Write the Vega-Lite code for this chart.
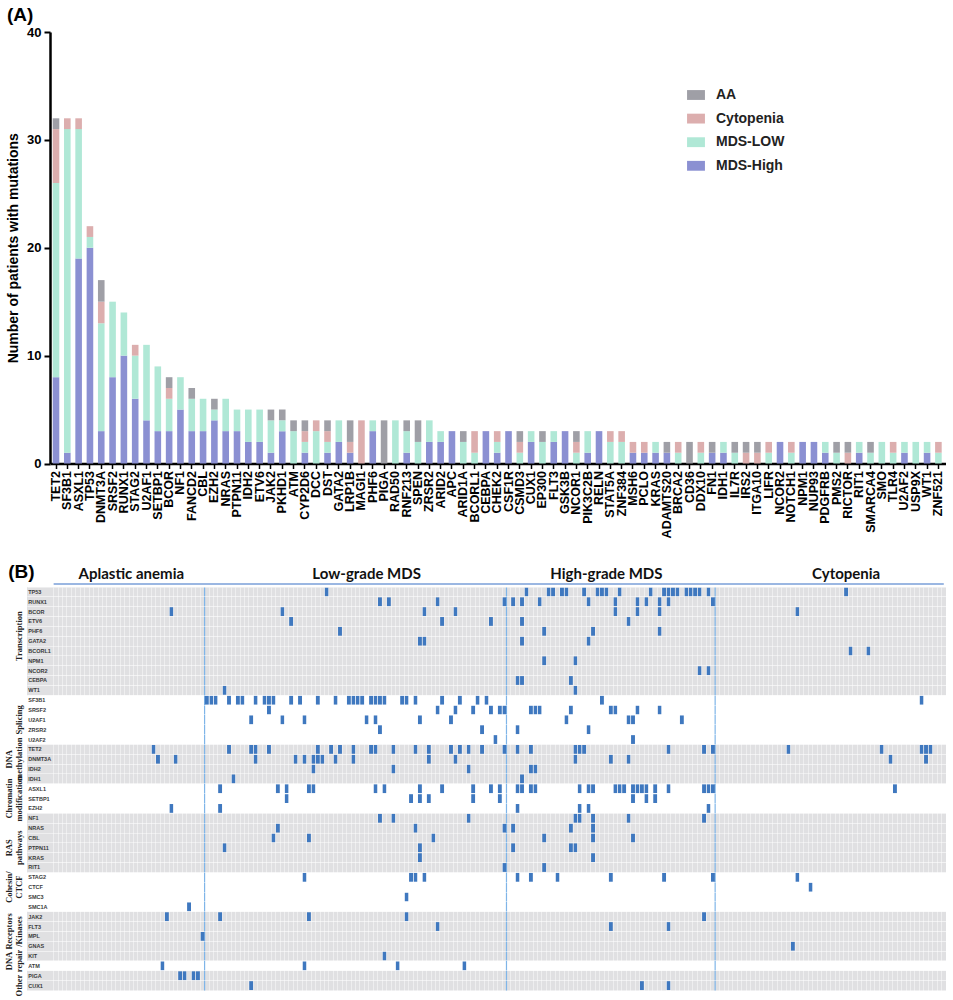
{"$schema":"https://vega.github.io/schema/vega-lite/v6.json","background":"white","padding":{"left":5,"top":6,"right":0,"bottom":0},"spacing":24,"bounds":"full","align":"none","config":{"view":{"stroke":null},"font":"Liberation Sans"},
"datasets":{
"counts":[
{"gene":"TET2","status":"MDS-High","n":8,"rank":1},{"gene":"TET2","status":"MDS-LOW","n":18,"rank":2},{"gene":"TET2","status":"Cytopenia","n":5,"rank":3},{"gene":"TET2","status":"AA","n":1,"rank":4},
{"gene":"SF3B1","status":"MDS-High","n":1,"rank":1},{"gene":"SF3B1","status":"MDS-LOW","n":30,"rank":2},{"gene":"SF3B1","status":"Cytopenia","n":1,"rank":3},
{"gene":"ASXL1","status":"MDS-High","n":19,"rank":1},{"gene":"ASXL1","status":"MDS-LOW","n":12,"rank":2},{"gene":"ASXL1","status":"Cytopenia","n":1,"rank":3},
{"gene":"TP53","status":"MDS-High","n":20,"rank":1},{"gene":"TP53","status":"MDS-LOW","n":1,"rank":2},{"gene":"TP53","status":"Cytopenia","n":1,"rank":3},
{"gene":"DNMT3A","status":"MDS-High","n":3,"rank":1},{"gene":"DNMT3A","status":"MDS-LOW","n":10,"rank":2},{"gene":"DNMT3A","status":"Cytopenia","n":2,"rank":3},{"gene":"DNMT3A","status":"AA","n":2,"rank":4},
{"gene":"SRSF2","status":"MDS-High","n":8,"rank":1},{"gene":"SRSF2","status":"MDS-LOW","n":7,"rank":2},
{"gene":"RUNX1","status":"MDS-High","n":10,"rank":1},{"gene":"RUNX1","status":"MDS-LOW","n":4,"rank":2},
{"gene":"STAG2","status":"MDS-High","n":6,"rank":1},{"gene":"STAG2","status":"MDS-LOW","n":4,"rank":2},{"gene":"STAG2","status":"Cytopenia","n":1,"rank":3},
{"gene":"U2AF1","status":"MDS-High","n":4,"rank":1},{"gene":"U2AF1","status":"MDS-LOW","n":7,"rank":2},
{"gene":"SETBP1","status":"MDS-High","n":3,"rank":1},{"gene":"SETBP1","status":"MDS-LOW","n":6,"rank":2},
{"gene":"BCOR","status":"MDS-High","n":3,"rank":1},{"gene":"BCOR","status":"MDS-LOW","n":3,"rank":2},{"gene":"BCOR","status":"Cytopenia","n":1,"rank":3},{"gene":"BCOR","status":"AA","n":1,"rank":4},
{"gene":"NF1","status":"MDS-High","n":5,"rank":1},{"gene":"NF1","status":"MDS-LOW","n":3,"rank":2},
{"gene":"FANCD2","status":"MDS-High","n":3,"rank":1},{"gene":"FANCD2","status":"MDS-LOW","n":3,"rank":2},{"gene":"FANCD2","status":"AA","n":1,"rank":4},
{"gene":"CBL","status":"MDS-High","n":3,"rank":1},{"gene":"CBL","status":"MDS-LOW","n":3,"rank":2},
{"gene":"EZH2","status":"MDS-High","n":4,"rank":1},{"gene":"EZH2","status":"MDS-LOW","n":1,"rank":2},{"gene":"EZH2","status":"AA","n":1,"rank":4},
{"gene":"NRAS","status":"MDS-High","n":3,"rank":1},{"gene":"NRAS","status":"MDS-LOW","n":3,"rank":2},
{"gene":"PTPN11","status":"MDS-High","n":3,"rank":1},{"gene":"PTPN11","status":"MDS-LOW","n":2,"rank":2},
{"gene":"IDH2","status":"MDS-High","n":2,"rank":1},{"gene":"IDH2","status":"MDS-LOW","n":3,"rank":2},
{"gene":"ETV6","status":"MDS-High","n":2,"rank":1},{"gene":"ETV6","status":"MDS-LOW","n":3,"rank":2},
{"gene":"JAK2","status":"MDS-High","n":1,"rank":1},{"gene":"JAK2","status":"MDS-LOW","n":3,"rank":2},{"gene":"JAK2","status":"AA","n":1,"rank":4},
{"gene":"PKHD1","status":"MDS-High","n":3,"rank":1},{"gene":"PKHD1","status":"MDS-LOW","n":1,"rank":2},{"gene":"PKHD1","status":"AA","n":1,"rank":4},
{"gene":"ATM","status":"MDS-LOW","n":3,"rank":2},{"gene":"ATM","status":"AA","n":1,"rank":4},
{"gene":"CYP2D6","status":"MDS-High","n":1,"rank":1},{"gene":"CYP2D6","status":"MDS-LOW","n":1,"rank":2},{"gene":"CYP2D6","status":"Cytopenia","n":1,"rank":3},{"gene":"CYP2D6","status":"AA","n":1,"rank":4},
{"gene":"DCC","status":"MDS-LOW","n":3,"rank":2},{"gene":"DCC","status":"Cytopenia","n":1,"rank":3},
{"gene":"DST","status":"MDS-High","n":1,"rank":1},{"gene":"DST","status":"MDS-LOW","n":1,"rank":2},{"gene":"DST","status":"Cytopenia","n":1,"rank":3},{"gene":"DST","status":"AA","n":1,"rank":4},
{"gene":"GATA2","status":"MDS-High","n":2,"rank":1},{"gene":"GATA2","status":"MDS-LOW","n":2,"rank":2},
{"gene":"LRP1B","status":"MDS-High","n":1,"rank":1},{"gene":"LRP1B","status":"Cytopenia","n":1,"rank":3},{"gene":"LRP1B","status":"AA","n":2,"rank":4},
{"gene":"MAGI1","status":"Cytopenia","n":4,"rank":3},
{"gene":"PHF6","status":"MDS-High","n":3,"rank":1},{"gene":"PHF6","status":"MDS-LOW","n":1,"rank":2},
{"gene":"PIGA","status":"AA","n":4,"rank":4},
{"gene":"RAD50","status":"MDS-LOW","n":4,"rank":2},
{"gene":"RNF213","status":"MDS-High","n":1,"rank":1},{"gene":"RNF213","status":"MDS-LOW","n":2,"rank":2},{"gene":"RNF213","status":"AA","n":1,"rank":4},
{"gene":"SPEN","status":"MDS-LOW","n":2,"rank":2},{"gene":"SPEN","status":"AA","n":2,"rank":4},
{"gene":"ZRSR2","status":"MDS-High","n":2,"rank":1},{"gene":"ZRSR2","status":"MDS-LOW","n":2,"rank":2},
{"gene":"ARID2","status":"MDS-High","n":2,"rank":1},{"gene":"ARID2","status":"MDS-LOW","n":1,"rank":2},
{"gene":"APC","status":"MDS-High","n":3,"rank":1},
{"gene":"ARID1A","status":"MDS-LOW","n":2,"rank":2},{"gene":"ARID1A","status":"AA","n":1,"rank":4},
{"gene":"BCORL1","status":"MDS-LOW","n":1,"rank":2},{"gene":"BCORL1","status":"Cytopenia","n":2,"rank":3},
{"gene":"CEBPA","status":"MDS-High","n":3,"rank":1},
{"gene":"CHEK2","status":"MDS-High","n":1,"rank":1},{"gene":"CHEK2","status":"MDS-LOW","n":1,"rank":2},{"gene":"CHEK2","status":"Cytopenia","n":1,"rank":3},
{"gene":"CSF1R","status":"MDS-High","n":3,"rank":1},
{"gene":"CSMD3","status":"MDS-LOW","n":1,"rank":2},{"gene":"CSMD3","status":"Cytopenia","n":1,"rank":3},{"gene":"CSMD3","status":"AA","n":1,"rank":4},
{"gene":"CUX1","status":"MDS-High","n":2,"rank":1},{"gene":"CUX1","status":"MDS-LOW","n":1,"rank":2},
{"gene":"EP300","status":"MDS-LOW","n":2,"rank":2},{"gene":"EP300","status":"AA","n":1,"rank":4},
{"gene":"FLT3","status":"MDS-High","n":2,"rank":1},{"gene":"FLT3","status":"MDS-LOW","n":1,"rank":2},
{"gene":"GSK3B","status":"MDS-High","n":3,"rank":1},
{"gene":"NCOR1","status":"MDS-LOW","n":1,"rank":2},{"gene":"NCOR1","status":"Cytopenia","n":1,"rank":3},{"gene":"NCOR1","status":"AA","n":1,"rank":4},
{"gene":"PIK3C2B","status":"MDS-High","n":1,"rank":1},{"gene":"PIK3C2B","status":"MDS-LOW","n":2,"rank":2},
{"gene":"RELN","status":"MDS-High","n":3,"rank":1},
{"gene":"STAT5A","status":"MDS-LOW","n":2,"rank":2},{"gene":"STAT5A","status":"Cytopenia","n":1,"rank":3},
{"gene":"ZNF384","status":"MDS-LOW","n":2,"rank":2},{"gene":"ZNF384","status":"Cytopenia","n":1,"rank":3},
{"gene":"MSH6","status":"MDS-High","n":1,"rank":1},{"gene":"MSH6","status":"Cytopenia","n":1,"rank":3},
{"gene":"PCLO","status":"MDS-High","n":1,"rank":1},{"gene":"PCLO","status":"Cytopenia","n":1,"rank":3},
{"gene":"KRAS","status":"MDS-High","n":1,"rank":1},{"gene":"KRAS","status":"MDS-LOW","n":1,"rank":2},
{"gene":"ADAMTS20","status":"MDS-High","n":1,"rank":1},{"gene":"ADAMTS20","status":"AA","n":1,"rank":4},
{"gene":"BRCA2","status":"MDS-LOW","n":1,"rank":2},{"gene":"BRCA2","status":"Cytopenia","n":1,"rank":3},
{"gene":"CD36","status":"AA","n":2,"rank":4},
{"gene":"DDX10","status":"MDS-LOW","n":1,"rank":2},{"gene":"DDX10","status":"Cytopenia","n":1,"rank":3},
{"gene":"FN1","status":"MDS-High","n":1,"rank":1},{"gene":"FN1","status":"AA","n":1,"rank":4},
{"gene":"IDH1","status":"MDS-High","n":1,"rank":1},{"gene":"IDH1","status":"MDS-LOW","n":1,"rank":2},
{"gene":"IL7R","status":"MDS-LOW","n":1,"rank":2},{"gene":"IL7R","status":"AA","n":1,"rank":4},
{"gene":"IRS2","status":"Cytopenia","n":1,"rank":3},{"gene":"IRS2","status":"AA","n":1,"rank":4},
{"gene":"ITGA10","status":"Cytopenia","n":1,"rank":3},{"gene":"ITGA10","status":"AA","n":1,"rank":4},
{"gene":"LIFR","status":"MDS-LOW","n":1,"rank":2},{"gene":"LIFR","status":"Cytopenia","n":1,"rank":3},
{"gene":"NCOR2","status":"MDS-High","n":2,"rank":1},
{"gene":"NOTCH1","status":"MDS-LOW","n":1,"rank":2},{"gene":"NOTCH1","status":"Cytopenia","n":1,"rank":3},
{"gene":"NPM1","status":"MDS-High","n":2,"rank":1},
{"gene":"NUP93","status":"MDS-High","n":2,"rank":1},
{"gene":"PDGFRB","status":"MDS-High","n":1,"rank":1},{"gene":"PDGFRB","status":"MDS-LOW","n":1,"rank":2},
{"gene":"PMS2","status":"MDS-LOW","n":1,"rank":2},{"gene":"PMS2","status":"AA","n":1,"rank":4},
{"gene":"RICTOR","status":"Cytopenia","n":1,"rank":3},{"gene":"RICTOR","status":"AA","n":1,"rank":4},
{"gene":"RIT1","status":"MDS-High","n":1,"rank":1},{"gene":"RIT1","status":"MDS-LOW","n":1,"rank":2},
{"gene":"SMARCA4","status":"MDS-LOW","n":1,"rank":2},{"gene":"SMARCA4","status":"AA","n":1,"rank":4},
{"gene":"SMO","status":"MDS-LOW","n":2,"rank":2},
{"gene":"TLR4","status":"MDS-LOW","n":1,"rank":2},{"gene":"TLR4","status":"Cytopenia","n":1,"rank":3},
{"gene":"U2AF2","status":"MDS-High","n":1,"rank":1},{"gene":"U2AF2","status":"MDS-LOW","n":1,"rank":2},
{"gene":"USP9X","status":"MDS-LOW","n":2,"rank":2},
{"gene":"WT1","status":"MDS-High","n":1,"rank":1},{"gene":"WT1","status":"MDS-LOW","n":1,"rank":2},
{"gene":"ZNF521","status":"MDS-LOW","n":1,"rank":2},{"gene":"ZNF521","status":"Cytopenia","n":1,"rank":3}
],
"genes":[{"gene":"TP53","shaded":true},{"gene":"RUNX1","shaded":true},{"gene":"BCOR","shaded":true},{"gene":"ETV6","shaded":true},{"gene":"PHF6","shaded":true},{"gene":"GATA2","shaded":true},{"gene":"BCORL1","shaded":true},{"gene":"NPM1","shaded":true},{"gene":"NCOR2","shaded":true},{"gene":"CEBPA","shaded":true},{"gene":"WT1","shaded":true},{"gene":"SF3B1","shaded":false},{"gene":"SRSF2","shaded":false},{"gene":"U2AF1","shaded":false},{"gene":"ZRSR2","shaded":false},{"gene":"U2AF2","shaded":false},{"gene":"TET2","shaded":true},{"gene":"DNMT3A","shaded":true},{"gene":"IDH2","shaded":true},{"gene":"IDH1","shaded":true},{"gene":"ASXL1","shaded":false},{"gene":"SETBP1","shaded":false},{"gene":"EZH2","shaded":false},{"gene":"NF1","shaded":true},{"gene":"NRAS","shaded":true},{"gene":"CBL","shaded":true},{"gene":"PTPN11","shaded":true},{"gene":"KRAS","shaded":true},{"gene":"RIT1","shaded":true},{"gene":"STAG2","shaded":false},{"gene":"CTCF","shaded":false},{"gene":"SMC3","shaded":false},{"gene":"SMC1A","shaded":false},{"gene":"JAK2","shaded":true},{"gene":"FLT3","shaded":true},{"gene":"MPL","shaded":true},{"gene":"GNAS","shaded":true},{"gene":"KIT","shaded":true},{"gene":"ATM","shaded":false},{"gene":"PIGA","shaded":true},{"gene":"CUX1","shaded":true}],
"sections":[{"label":"Aplastic anemia","patient":17,"gene":"TP53"},{"label":"Low-grade MDS","patient":70,"gene":"TP53"},{"label":"High-grade MDS","patient":124,"gene":"TP53"},{"label":"Cytopenia","patient":178,"gene":"TP53"}],
"dividers":[{"patient":34},{"patient":102},{"patient":149}],
"groupsCentered":[{"label":"\nSplicing","gene":"U2AF1"},{"label":"DNA\nmethylation","gene":"DNMT3A"},{"label":"Chromatin\nmodification","gene":"SETBP1"},{"label":"RAS\npathways","gene":"PTPN11"},{"label":"Cohesin/\nCTCF","gene":"CTCF"},{"label":"\nOther","gene":"CUX1"}],
"groupsBetween":[{"label":"\nTranscription","gene":"PHF6"},{"label":"Receptors\n/Kinases","gene":"FLT3"},{"label":"DNA\nrepair","gene":"KIT"}],
"cells":[
{"gene":"TP53","patient":61},{"gene":"TP53","patient":106},{"gene":"TP53","patient":111},{"gene":"TP53","patient":112},{"gene":"TP53","patient":114},{"gene":"TP53","patient":115},{"gene":"TP53","patient":119},{"gene":"TP53","patient":122},{"gene":"TP53","patient":123},{"gene":"TP53","patient":124},{"gene":"TP53","patient":127},{"gene":"TP53","patient":134},{"gene":"TP53","patient":137},{"gene":"TP53","patient":138},{"gene":"TP53","patient":139},{"gene":"TP53","patient":140},{"gene":"TP53","patient":142},{"gene":"TP53","patient":143},{"gene":"TP53","patient":144},{"gene":"TP53","patient":145},{"gene":"TP53","patient":147},{"gene":"TP53","patient":178},
{"gene":"RUNX1","patient":73},{"gene":"RUNX1","patient":75},{"gene":"RUNX1","patient":86},{"gene":"RUNX1","patient":101},{"gene":"RUNX1","patient":103},{"gene":"RUNX1","patient":105},{"gene":"RUNX1","patient":109},{"gene":"RUNX1","patient":120},{"gene":"RUNX1","patient":126},{"gene":"RUNX1","patient":131},{"gene":"RUNX1","patient":133},{"gene":"RUNX1","patient":136},{"gene":"RUNX1","patient":138},{"gene":"RUNX1","patient":148},
{"gene":"BCOR","patient":26},{"gene":"BCOR","patient":51},{"gene":"BCOR","patient":83},{"gene":"BCOR","patient":90},{"gene":"BCOR","patient":126},{"gene":"BCOR","patient":131},{"gene":"BCOR","patient":136},{"gene":"BCOR","patient":167},
{"gene":"ETV6","patient":53},{"gene":"ETV6","patient":87},{"gene":"ETV6","patient":98},{"gene":"ETV6","patient":105},{"gene":"ETV6","patient":129},
{"gene":"PHF6","patient":64},{"gene":"PHF6","patient":110},{"gene":"PHF6","patient":121},{"gene":"PHF6","patient":136},
{"gene":"GATA2","patient":82},{"gene":"GATA2","patient":83},{"gene":"GATA2","patient":105},{"gene":"GATA2","patient":120},
{"gene":"BCORL1","patient":179},{"gene":"BCORL1","patient":183},
{"gene":"NPM1","patient":110},{"gene":"NPM1","patient":117},
{"gene":"NCOR2","patient":145},{"gene":"NCOR2","patient":147},
{"gene":"CEBPA","patient":104},{"gene":"CEBPA","patient":105},{"gene":"CEBPA","patient":116},
{"gene":"WT1","patient":38},{"gene":"WT1","patient":117},
{"gene":"SF3B1","patient":34},{"gene":"SF3B1","patient":35},{"gene":"SF3B1","patient":36},{"gene":"SF3B1","patient":39},{"gene":"SF3B1","patient":41},{"gene":"SF3B1","patient":42},{"gene":"SF3B1","patient":45},{"gene":"SF3B1","patient":47},{"gene":"SF3B1","patient":48},{"gene":"SF3B1","patient":49},{"gene":"SF3B1","patient":53},{"gene":"SF3B1","patient":55},{"gene":"SF3B1","patient":59},{"gene":"SF3B1","patient":63},{"gene":"SF3B1","patient":66},{"gene":"SF3B1","patient":67},{"gene":"SF3B1","patient":68},{"gene":"SF3B1","patient":69},{"gene":"SF3B1","patient":71},{"gene":"SF3B1","patient":72},{"gene":"SF3B1","patient":73},{"gene":"SF3B1","patient":74},{"gene":"SF3B1","patient":78},{"gene":"SF3B1","patient":79},{"gene":"SF3B1","patient":81},{"gene":"SF3B1","patient":87},{"gene":"SF3B1","patient":91},{"gene":"SF3B1","patient":95},{"gene":"SF3B1","patient":97},{"gene":"SF3B1","patient":123},{"gene":"SF3B1","patient":195},
{"gene":"SRSF2","patient":48},{"gene":"SRSF2","patient":86},{"gene":"SRSF2","patient":90},{"gene":"SRSF2","patient":94},{"gene":"SRSF2","patient":98},{"gene":"SRSF2","patient":100},{"gene":"SRSF2","patient":101},{"gene":"SRSF2","patient":107},{"gene":"SRSF2","patient":108},{"gene":"SRSF2","patient":109},{"gene":"SRSF2","patient":116},{"gene":"SRSF2","patient":125},{"gene":"SRSF2","patient":126},{"gene":"SRSF2","patient":131},{"gene":"SRSF2","patient":136},
{"gene":"U2AF1","patient":44},{"gene":"U2AF1","patient":51},{"gene":"U2AF1","patient":56},{"gene":"U2AF1","patient":70},{"gene":"U2AF1","patient":72},{"gene":"U2AF1","patient":82},{"gene":"U2AF1","patient":89},{"gene":"U2AF1","patient":115},{"gene":"U2AF1","patient":129},{"gene":"U2AF1","patient":130},{"gene":"U2AF1","patient":141},
{"gene":"ZRSR2","patient":73},{"gene":"ZRSR2","patient":96},{"gene":"ZRSR2","patient":104},{"gene":"ZRSR2","patient":120},
{"gene":"U2AF2","patient":99},{"gene":"U2AF2","patient":130},
{"gene":"TET2","patient":22},{"gene":"TET2","patient":39},{"gene":"TET2","patient":44},{"gene":"TET2","patient":45},{"gene":"TET2","patient":48},{"gene":"TET2","patient":59},{"gene":"TET2","patient":62},{"gene":"TET2","patient":64},{"gene":"TET2","patient":67},{"gene":"TET2","patient":71},{"gene":"TET2","patient":72},{"gene":"TET2","patient":76},{"gene":"TET2","patient":81},{"gene":"TET2","patient":84},{"gene":"TET2","patient":89},{"gene":"TET2","patient":91},{"gene":"TET2","patient":93},{"gene":"TET2","patient":96},{"gene":"TET2","patient":101},{"gene":"TET2","patient":104},{"gene":"TET2","patient":107},{"gene":"TET2","patient":117},{"gene":"TET2","patient":118},{"gene":"TET2","patient":119},{"gene":"TET2","patient":138},{"gene":"TET2","patient":146},{"gene":"TET2","patient":148},{"gene":"TET2","patient":165},{"gene":"TET2","patient":186},{"gene":"TET2","patient":195},{"gene":"TET2","patient":196},{"gene":"TET2","patient":197},
{"gene":"DNMT3A","patient":23},{"gene":"DNMT3A","patient":27},{"gene":"DNMT3A","patient":45},{"gene":"DNMT3A","patient":54},{"gene":"DNMT3A","patient":56},{"gene":"DNMT3A","patient":58},{"gene":"DNMT3A","patient":59},{"gene":"DNMT3A","patient":60},{"gene":"DNMT3A","patient":63},{"gene":"DNMT3A","patient":67},{"gene":"DNMT3A","patient":84},{"gene":"DNMT3A","patient":90},{"gene":"DNMT3A","patient":117},{"gene":"DNMT3A","patient":125},{"gene":"DNMT3A","patient":129},{"gene":"DNMT3A","patient":188},{"gene":"DNMT3A","patient":196},
{"gene":"IDH2","patient":58},{"gene":"IDH2","patient":76},{"gene":"IDH2","patient":93},{"gene":"IDH2","patient":107},{"gene":"IDH2","patient":108},
{"gene":"IDH1","patient":40},{"gene":"IDH1","patient":105},
{"gene":"ASXL1","patient":37},{"gene":"ASXL1","patient":50},{"gene":"ASXL1","patient":52},{"gene":"ASXL1","patient":57},{"gene":"ASXL1","patient":58},{"gene":"ASXL1","patient":72},{"gene":"ASXL1","patient":74},{"gene":"ASXL1","patient":82},{"gene":"ASXL1","patient":87},{"gene":"ASXL1","patient":94},{"gene":"ASXL1","patient":98},{"gene":"ASXL1","patient":100},{"gene":"ASXL1","patient":104},{"gene":"ASXL1","patient":105},{"gene":"ASXL1","patient":107},{"gene":"ASXL1","patient":108},{"gene":"ASXL1","patient":118},{"gene":"ASXL1","patient":120},{"gene":"ASXL1","patient":121},{"gene":"ASXL1","patient":126},{"gene":"ASXL1","patient":127},{"gene":"ASXL1","patient":128},{"gene":"ASXL1","patient":130},{"gene":"ASXL1","patient":131},{"gene":"ASXL1","patient":132},{"gene":"ASXL1","patient":133},{"gene":"ASXL1","patient":135},{"gene":"ASXL1","patient":138},{"gene":"ASXL1","patient":146},{"gene":"ASXL1","patient":147},{"gene":"ASXL1","patient":148},{"gene":"ASXL1","patient":189},
{"gene":"SETBP1","patient":52},{"gene":"SETBP1","patient":80},{"gene":"SETBP1","patient":82},{"gene":"SETBP1","patient":84},{"gene":"SETBP1","patient":94},{"gene":"SETBP1","patient":100},{"gene":"SETBP1","patient":130},{"gene":"SETBP1","patient":133},{"gene":"SETBP1","patient":135},
{"gene":"EZH2","patient":26},{"gene":"EZH2","patient":37},{"gene":"EZH2","patient":104},{"gene":"EZH2","patient":118},{"gene":"EZH2","patient":120},{"gene":"EZH2","patient":147},
{"gene":"NF1","patient":73},{"gene":"NF1","patient":76},{"gene":"NF1","patient":93},{"gene":"NF1","patient":117},{"gene":"NF1","patient":118},{"gene":"NF1","patient":121},{"gene":"NF1","patient":129},{"gene":"NF1","patient":146},
{"gene":"NRAS","patient":50},{"gene":"NRAS","patient":81},{"gene":"NRAS","patient":101},{"gene":"NRAS","patient":103},{"gene":"NRAS","patient":116},{"gene":"NRAS","patient":121},
{"gene":"CBL","patient":49},{"gene":"CBL","patient":57},{"gene":"CBL","patient":85},{"gene":"CBL","patient":110},{"gene":"CBL","patient":121},{"gene":"CBL","patient":130},
{"gene":"PTPN11","patient":38},{"gene":"PTPN11","patient":82},{"gene":"PTPN11","patient":103},{"gene":"PTPN11","patient":116},{"gene":"PTPN11","patient":117},
{"gene":"KRAS","patient":82},{"gene":"KRAS","patient":121},
{"gene":"RIT1","patient":101},{"gene":"RIT1","patient":110},
{"gene":"STAG2","patient":56},{"gene":"STAG2","patient":80},{"gene":"STAG2","patient":81},{"gene":"STAG2","patient":83},{"gene":"STAG2","patient":104},{"gene":"STAG2","patient":107},{"gene":"STAG2","patient":113},{"gene":"STAG2","patient":125},{"gene":"STAG2","patient":137},{"gene":"STAG2","patient":148},{"gene":"STAG2","patient":167},
{"gene":"CTCF","patient":170},{"gene":"SMC3","patient":79},{"gene":"SMC1A","patient":30},
{"gene":"JAK2","patient":25},{"gene":"JAK2","patient":37},{"gene":"JAK2","patient":57},{"gene":"JAK2","patient":79},{"gene":"JAK2","patient":146},
{"gene":"FLT3","patient":86},{"gene":"FLT3","patient":125},{"gene":"FLT3","patient":138},
{"gene":"MPL","patient":33},{"gene":"GNAS","patient":166},{"gene":"KIT","patient":74},
{"gene":"ATM","patient":24},{"gene":"ATM","patient":56},{"gene":"ATM","patient":77},{"gene":"ATM","patient":92},
{"gene":"PIGA","patient":28},{"gene":"PIGA","patient":29},{"gene":"PIGA","patient":31},{"gene":"PIGA","patient":32},
{"gene":"CUX1","patient":44},{"gene":"CUX1","patient":132},{"gene":"CUX1","patient":138}
]},
"vconcat":[
{"width":919,"height":431.5,"layer":[
{"data":{"name":"counts"},"mark":{"type":"bar"},"encoding":{
"x":{"field":"gene","type":"nominal","title":null,"scale":{"domain":["TET2","SF3B1","ASXL1","TP53","DNMT3A","SRSF2","RUNX1","STAG2","U2AF1","SETBP1","BCOR","NF1","FANCD2","CBL","EZH2","NRAS","PTPN11","IDH2","ETV6","JAK2","PKHD1","ATM","CYP2D6","DCC","DST","GATA2","LRP1B","MAGI1","PHF6","PIGA","RAD50","RNF213","SPEN","ZRSR2","ARID2","APC","ARID1A","BCORL1","CEBPA","CHEK2","CSF1R","CSMD3","CUX1","EP300","FLT3","GSK3B","NCOR1","PIK3C2B","RELN","STAT5A","ZNF384","MSH6","PCLO","KRAS","ADAMTS20","BRCA2","CD36","DDX10","FN1","IDH1","IL7R","IRS2","ITGA10","LIFR","NCOR2","NOTCH1","NPM1","NUP93","PDGFRB","PMS2","RICTOR","RIT1","SMARCA4","SMO","TLR4","U2AF2","USP9X","WT1","ZNF521"],"range":[23,919],"paddingInner":0.417,"paddingOuter":0.31,"align":0.386},"axis":{"labelAngle":-90,"labelFont":"Liberation Sans","labelFontWeight":"bold","labelFontSize":12.5,"labelColor":"#000","labelOverlap":false,"labelPadding":2,"tickColor":"#000","tickWidth":1.5,"tickSize":5,"domainColor":"#000","domainWidth":2.5,"grid":false}},
"y":{"field":"n","type":"quantitative","aggregate":"sum","stack":"zero","title":"Number of patients with mutations","scale":{"domain":[0,40]},"axis":{"offset":-23,"values":[0,10,20,30,40],"grid":false,"labelFontWeight":"bold","labelFontSize":13,"labelColor":"#000","labelPadding":3,"tickColor":"#000","tickWidth":2,"tickSize":6,"domainColor":"#000","domainWidth":2.5,"titleFontSize":14,"titleFontWeight":"bold","titleColor":"#000","titlePadding":6}},
"color":{"field":"status","type":"nominal","scale":{"domain":["AA","Cytopenia","MDS-LOW","MDS-High"],"range":["#9f9fa6","#dcaeae","#b0e8d6","#8b90d2"]},"legend":{"title":null,"orient":"none","legendX":660,"legendY":54,"symbolType":"M-1,-0.55H1V0.55H-1Z","symbolSize":320,"symbolStrokeWidth":0,"labelFontSize":14,"labelFontWeight":"bold","labelColor":"#222","labelOffset":11,"rowPadding":7.6}},
"order":{"field":"rank","type":"ordinal"}}},
{"data":{"values":[{"label":"(A)","gene":"TET2","n":40}]},"mark":{"type":"text","align":"left","baseline":"middle","fontWeight":"bold","fontSize":19,"dx":-49,"dy":-17,"color":"#000"},"encoding":{"x":{"field":"gene","type":"nominal"},"y":{"field":"n","type":"quantitative"},"text":{"field":"label"}}}
]},
{"width":919,"height":403.5,"layer":[
{"data":{"name":"genes"},"transform":[{"filter":"datum.shaded"}],"mark":{"type":"rect","color":"#e0e0e2"},"encoding":{"y":{"field":"gene","type":"nominal"}}},
{"data":{"name":"dividers"},"mark":{"type":"rule","color":"#7fb5e8","strokeWidth":1.2},"encoding":{"x":{"field":"patient","type":"ordinal","bandPosition":0}}},
{"data":{"name":"cells"},"mark":{"type":"rect","color":"#3f78bf","width":3.9,"height":8.8},"encoding":{
"x":{"field":"patient","type":"ordinal","title":null,"scale":{"domain":[-6,-5,-4,-3,-2,-1,0,1,2,3,4,5,6,7,8,9,10,11,12,13,14,15,16,17,18,19,20,21,22,23,24,25,26,27,28,29,30,31,32,33,34,35,36,37,38,39,40,41,42,43,44,45,46,47,48,49,50,51,52,53,54,55,56,57,58,59,60,61,62,63,64,65,66,67,68,69,70,71,72,73,74,75,76,77,78,79,80,81,82,83,84,85,86,87,88,89,90,91,92,93,94,95,96,97,98,99,100,101,102,103,104,105,106,107,108,109,110,111,112,113,114,115,116,117,118,119,120,121,122,123,124,125,126,127,128,129,130,131,132,133,134,135,136,137,138,139,140,141,142,143,144,145,146,147,148,149,150,151,152,153,154,155,156,157,158,159,160,161,162,163,164,165,166,167,168,169,170,171,172,173,174,175,176,177,178,179,180,181,182,183,184,185,186,187,188,189,190,191,192,193,194,195,196,197,198,199,200],"paddingInner":0,"paddingOuter":0},"axis":{"values":[0,1,2,3,4,5,6,7,8,9,10,11,12,13,14,15,16,17,18,19,20,21,22,23,24,25,26,27,28,29,30,31,32,33,35,36,37,38,39,40,41,42,43,44,45,46,47,48,49,50,51,52,53,54,55,56,57,58,59,60,61,62,63,64,65,66,67,68,69,70,71,72,73,74,75,76,77,78,79,80,81,82,83,84,85,86,87,88,89,90,91,92,93,94,95,96,97,98,99,100,101,103,104,105,106,107,108,109,110,111,112,113,114,115,116,117,118,119,120,121,122,123,124,125,126,127,128,129,130,131,132,133,134,135,136,137,138,139,140,141,142,143,144,145,146,147,148,150,151,152,153,154,155,156,157,158,159,160,161,162,163,164,165,166,167,168,169,170,171,172,173,174,175,176,177,178,179,180,181,182,183,184,185,186,187,188,189,190,191,192,193,194,195,196,197,198,199,200],"bandPosition":0,"labels":false,"ticks":false,"domain":false,"grid":true,"gridColor":"#ffffff","gridWidth":0.6,"gridOpacity":0.75,"zindex":1}},
"y":{"field":"gene","type":"nominal","title":null,"scale":{"domain":["TP53","RUNX1","BCOR","ETV6","PHF6","GATA2","BCORL1","NPM1","NCOR2","CEBPA","WT1","SF3B1","SRSF2","U2AF1","ZRSR2","U2AF2","TET2","DNMT3A","IDH2","IDH1","ASXL1","SETBP1","EZH2","NF1","NRAS","CBL","PTPN11","KRAS","RIT1","STAG2","CTCF","SMC3","SMC1A","JAK2","FLT3","MPL","GNAS","KIT","ATM","PIGA","CUX1"],"paddingInner":0,"paddingOuter":0},"axis":{"bandPosition":0,"labels":false,"ticks":false,"domain":false,"grid":true,"gridColor":"#ffffff","gridWidth":0.6,"gridOpacity":0.75,"zindex":1}}}},
{"data":{"values":[{"gene":"TP53"}]},"mark":{"type":"rule","color":"#7a9fd8","strokeWidth":1.5,"yOffset":-3},"encoding":{"x":{"datum":0,"type":"ordinal","bandPosition":0},"x2":{"datum":200},"y":{"field":"gene","type":"nominal","bandPosition":0}}},
{"data":{"name":"genes"},"mark":{"type":"text","align":"left","baseline":"middle","fontWeight":"bold","fontSize":5.5,"font":"Liberation Sans","color":"#3a3a3a","dx":-1},"encoding":{"x":{"datum":-6,"type":"ordinal"},"y":{"field":"gene","type":"nominal"},"text":{"field":"gene"}}},
{"data":{"name":"sections"},"mark":{"type":"text","align":"center","baseline":"middle","fontWeight":"bold","fontSize":15,"font":"Lato","color":"#111","dy":-18},"encoding":{"x":{"field":"patient","type":"ordinal"},"y":{"field":"gene","type":"nominal"},"text":{"field":"label"}}},
{"data":{"values":[{"label":"(B)","gene":"TP53"}]},"mark":{"type":"text","align":"left","baseline":"middle","fontWeight":"bold","fontSize":19,"color":"#000","dx":-21,"dy":-20},"encoding":{"x":{"datum":-6,"type":"ordinal"},"y":{"field":"gene","type":"nominal"},"text":{"field":"label"}}},
{"data":{"name":"groupsCentered"},"mark":{"type":"text","align":"center","baseline":"middle","angle":270,"lineBreak":"\n","lineHeight":10,"fontWeight":"bold","fontSize":8.5,"font":"Liberation Serif","color":"#222","dx":0,"dy":-20},"encoding":{"x":{"datum":-6,"type":"ordinal"},"y":{"field":"gene","type":"nominal"},"text":{"field":"label"}}},
{"data":{"name":"groupsBetween"},"mark":{"type":"text","align":"center","baseline":"middle","angle":270,"lineBreak":"\n","lineHeight":10,"fontWeight":"bold","fontSize":8.5,"font":"Liberation Serif","color":"#222","dx":-4.9,"dy":-20},"encoding":{"x":{"datum":-6,"type":"ordinal"},"y":{"field":"gene","type":"nominal"},"text":{"field":"label"}}}
]}
]}
